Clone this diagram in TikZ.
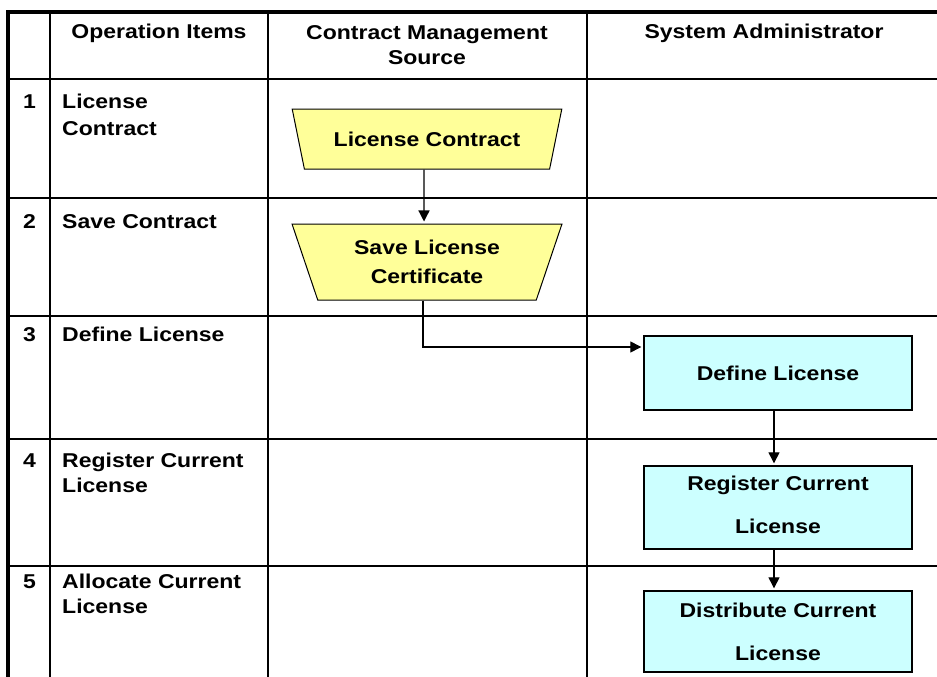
\documentclass[tikz,border=0pt]{standalone}
\usepackage{fontspec}
\setmainfont[FakeStretch=1.15]{Liberation Sans}
\usetikzlibrary{shapes.geometric,arrows.meta}
\definecolor{ylw}{HTML}{FFFF99}
\definecolor{cyn}{HTML}{CCFFFF}
\begin{document}
\begin{tikzpicture}[x=1pt,y=-1pt,
  grid/.style={line width=1.6pt},
  outer/.style={line width=3.2pt},
  txt/.style={font=\bfseries\fontsize{20}{26}\selectfont, inner sep=0pt},
  lbl/.style={txt, anchor=base west, align=left},
  hdr/.style={txt, align=center},
  trap/.style={draw, line width=1pt, fill=ylw, trapezium, shape border rotate=180,
    trapezium stretches=true, minimum width=270pt, align=center,
    font=\bfseries\fontsize{20}{29}\selectfont},
  box/.style={draw, line width=1.4pt, fill=cyn, minimum width=268pt, align=center,
    inner ysep=0pt, font=\bfseries\fontsize{20}{43}\selectfont},
  arr/.style={line width=1.3pt, -{Triangle[length=11pt,width=11pt]}, shorten >=2pt}
]
\useasboundingbox (0,0) rectangle (937,677);
% grid
\foreach \yy in {79,198,316,439,566} \draw[grid] (8,\yy) -- (937,\yy);
\foreach \xx in {50,268,587} \draw[grid] (\xx,12) -- (\xx,677);
\draw[outer] (8,677) -- (8,12) -- (937,12);
% header
\node[hdr] (h1) at (159,33) {Operation Items};
\node[hdr, anchor=base] (h2) at (427,65) {Contract Management\\[-1pt]Source};
\node[hdr] (h3) at (764,33) {System Administrator};
% numbers
\node[lbl] (n1) at (23,108) {1};
\node[lbl] (n2) at (23,228) {2};
\node[lbl] (n3) at (23,341) {3};
\node[lbl] (n4) at (23,467) {4};
\node[lbl] (n5) at (23,588) {5};
% labels (multi-line: base = last line)
\node[lbl] (l1) at (62,135) {License\\[1pt]Contract};
\node[lbl] (l2) at (62,228) {Save Contract};
\node[lbl] (l3) at (62,341) {Define License};
\node[lbl] (l4) at (62,492) {Register Current\\[-1pt]License};
\node[lbl] (l5) at (62,613) {Allocate Current\\[-1pt]License};
% flow nodes
\node[trap, minimum height=60pt, trapezium angle=65.8] (t1) at (427,139) {License Contract};
\node[trap, minimum height=76pt, trapezium angle=70.4] (t2) at (427,262) {Save License\\Certificate};
\node[box, minimum height=74pt] (b1) at (778,373) {Define License};
\node[box, minimum height=83pt, text depth=6pt] (b2) at (778,507.5) {Register Current\\License};
\node[box, minimum height=81pt] (b3) at (778,631.5) {Distribute Current\\License};
% connectors
\draw[arr] ([xshift=-3pt]t1.south) -- ([xshift=-3pt]t2.north);
\draw[arr] ([xshift=-4pt]t2.south) |- ([yshift=26pt]b1.west);
\draw[arr] ([xshift=-4pt]b1.south) -- ([xshift=-4pt]b2.north);
\draw[arr] ([xshift=-4pt]b2.south) -- ([xshift=-4pt]b3.north);
\end{tikzpicture}
\end{document}
